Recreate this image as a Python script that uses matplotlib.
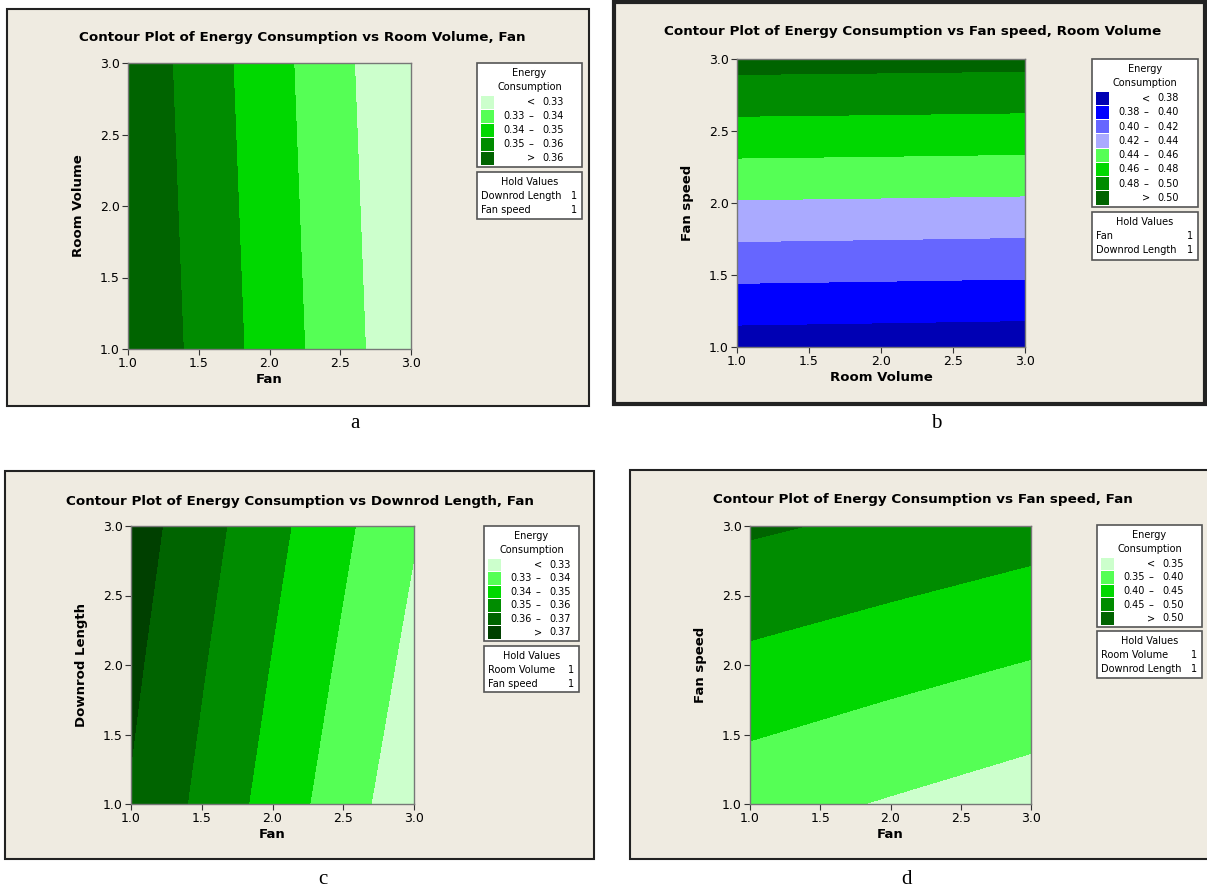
import matplotlib
matplotlib.use("Agg")
import matplotlib.pyplot as plt
from matplotlib.patches import Rectangle
import numpy as np

# Dados (valores de Energy Consumption nos pontos 1, 2, 3 de cada eixo)
grade = [1.0, 2.0, 3.0]

# a) Room Volume (linhas) x Fan (colunas)
z_a = [[0.3691, 0.3458, 0.3225],
       [0.3682, 0.3449, 0.3216],
       [0.3673, 0.3440, 0.3207]]
cortes_a = [0.33, 0.34, 0.35, 0.36]
cores_a = ["#CCFFCC", "#55FF55", "#00D800", "#008C00", "#006400"]

# b) Fan speed (linhas) x Room Volume (colunas)
z_b = [[0.3695, 0.3684, 0.3673],
       [0.4385, 0.4376, 0.4366],
       [0.5074, 0.5067, 0.5059]]
cortes_b = [0.38, 0.40, 0.42, 0.44, 0.46, 0.48, 0.50]
cores_b = ["#0000B4", "#0000FF", "#6666FF", "#AAAAFF",
           "#55FF55", "#00D800", "#008C00", "#006400"]

# c) Downrod Length (linhas) x Fan (colunas)
z_c = [[0.3692, 0.3461, 0.3230],
       [0.3720, 0.3495, 0.3270],
       [0.3749, 0.3529, 0.3309]]
cortes_c = [0.33, 0.34, 0.35, 0.36, 0.37]
cores_c = ["#CCFFCC", "#55FF55", "#00D800", "#008C00", "#006400", "#004000"]

# d) Fan speed (linhas) x Fan (colunas)
z_d = [[0.3685, 0.3458, 0.3231],
       [0.4379, 0.4174, 0.3970],
       [0.5072, 0.4891, 0.4709]]
cortes_d = [0.35, 0.40, 0.45, 0.50]
cores_d = ["#CCFFCC", "#55FF55", "#00D800", "#008C00", "#006400"]

W, H = 1207, 890
fig = plt.figure(figsize=(W / 100, H / 100), dpi=100, facecolor="white")

# camada de fundo em pixels
bg = fig.add_axes([0, 0, 1, 1], zorder=0)
bg.set_xlim(0, W)
bg.set_ylim(H, 0)
bg.axis("off")

BEGE = "#EFEBE1"


def caixa_px(x0, y0, x1, y1):
    return [x0 / W, 1 - y1 / H, (x1 - x0) / W, (y1 - y0) / H]


def painel(caixa, lw):
    x0, y0, x1, y1 = caixa
    bg.add_patch(Rectangle((x0, y0), x1 - x0, y1 - y0, facecolor=BEGE,
                           edgecolor="#222222", lw=lw))


def legenda(x0, x1, y0, y1, cortes, cores, fmt):
    bg.add_patch(Rectangle((x0, y0), x1 - x0, y1 - y0, facecolor="white",
                           edgecolor="#555555", lw=1.2))
    cx = (x0 + x1) / 2
    bg.text(cx, y0 + 10, "Energy", ha="center", va="center", fontsize=7)
    bg.text(cx, y0 + 24, "Consumption", ha="center", va="center", fontsize=7)
    n = len(cores)
    topo = y0 + 32
    h = (y1 - 2 - topo) / n
    for i, cor in enumerate(cores):
        yy = topo + i * h
        bg.add_patch(Rectangle((x0 + 4, yy + 0.5), 13, h - 1, facecolor=cor, edgecolor="none"))
        ym = yy + h / 2
        if i == 0:
            bg.text(x0 + 54, ym, "<", ha="center", va="center", fontsize=7)
            bg.text(x0 + 87, ym, fmt % cortes[0], ha="right", va="center", fontsize=7)
        elif i == n - 1:
            bg.text(x0 + 54, ym, ">", ha="center", va="center", fontsize=7)
            bg.text(x0 + 87, ym, fmt % cortes[-1], ha="right", va="center", fontsize=7)
        else:
            bg.text(x0 + 26, ym, fmt % cortes[i - 1], ha="left", va="center", fontsize=7)
            bg.text(x0 + 54, ym, "–", ha="center", va="center", fontsize=7)
            bg.text(x0 + 87, ym, fmt % cortes[i], ha="right", va="center", fontsize=7)


def hold(x0, x1, y0, y1, itens):
    bg.add_patch(Rectangle((x0, y0), x1 - x0, y1 - y0, facecolor="white",
                           edgecolor="#555555", lw=1.2))
    bg.text((x0 + x1) / 2, y0 + 10, "Hold Values", ha="center", va="center", fontsize=7)
    for k, (nome, valor) in enumerate(itens):
        yy = y0 + 24 + 14 * k
        bg.text(x0 + 4, yy, nome, ha="left", va="center", fontsize=7)
        bg.text(x1 - 5, yy, str(valor), ha="right", va="center", fontsize=7)


def grafico(caixa_ax, z, cortes, cores, xlabel, ylabel):
    ax = fig.add_axes(caixa_px(*caixa_ax), zorder=1)
    niveis = [0.0] + cortes + [1.0]
    ax.contourf(grade, grade, np.array(z), levels=niveis, colors=cores)
    ax.set_xlim(1, 3)
    ax.set_ylim(1, 3)
    ticks = [1.0, 1.5, 2.0, 2.5, 3.0]
    ax.set_xticks(ticks)
    ax.set_yticks(ticks)
    ax.set_xticklabels(["%.1f" % t for t in ticks])
    ax.set_yticklabels(["%.1f" % t for t in ticks])
    ax.tick_params(direction="out", length=4, width=0.8, labelsize=9, pad=2, colors="#333333")
    ax.tick_params(labelcolor="black")
    for s in ax.spines.values():
        s.set_color("#777777")
        s.set_linewidth(1.0)
    ax.set_xlabel(xlabel, fontsize=9.5, fontweight="bold", labelpad=2)
    ax.set_ylabel(ylabel, fontsize=9.5, fontweight="bold", labelpad=11)
    return ax


TITULO = dict(ha="center", va="center", fontsize=9.7, fontweight="bold")

# painel a
painel((7, 9, 589, 406), 1.5)
grafico((128, 63, 411, 349), z_a, cortes_a, cores_a, "Fan", "Room Volume")
bg.text(302, 37, "Contour Plot of Energy Consumption vs Room Volume, Fan", **TITULO)
legenda(477, 582, 63, 167, cortes_a, cores_a, "%.2f")
hold(477, 582, 172, 219, [("Downrod Length", 1), ("Fan speed", 1)])

# painel b
painel((614, 2, 1205, 404), 3)
grafico((737, 59, 1025, 347), z_b, cortes_b, cores_b, "Room Volume", "Fan speed")
bg.text(913, 32, "Contour Plot of Energy Consumption vs Fan speed, Room Volume", **TITULO)
legenda(1092, 1198, 59, 207, cortes_b, cores_b, "%.2f")
hold(1092, 1198, 212, 260, [("Fan", 1), ("Downrod Length", 1)])

# painel c
painel((5, 471, 594, 859), 1.5)
grafico((131, 526, 414, 804), z_c, cortes_c, cores_c, "Fan", "Downrod Length")
bg.text(300, 501, "Contour Plot of Energy Consumption vs Downrod Length, Fan", **TITULO)
legenda(484, 579, 526, 641, cortes_c, cores_c, "%.2f")
hold(484, 579, 646, 692, [("Room Volume", 1), ("Fan speed", 1)])

# painel d
painel((630, 470, 1212, 859), 1.5)
grafico((750, 526, 1031, 804), z_d, cortes_d, cores_d, "Fan", "Fan speed")
bg.text(923, 500, "Contour Plot of Energy Consumption vs Fan speed, Fan", **TITULO)
legenda(1097, 1202, 525, 627, cortes_d, cores_d, "%.2f")
hold(1097, 1202, 631, 678, [("Room Volume", 1), ("Downrod Length", 1)])

# letras
for letra, (lx, ly) in zip("abcd", [(355, 424), (936, 424), (323, 880), (906, 880)]):
    bg.text(lx, ly, letra, ha="center", va="center", fontsize=15, family="Liberation Serif")

fig.savefig("out.png", dpi=100, facecolor="white")
